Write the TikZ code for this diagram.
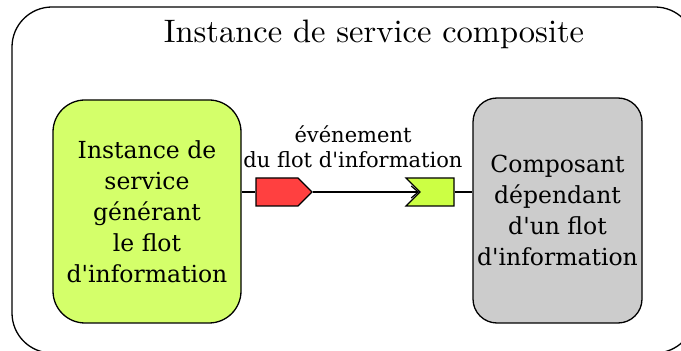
\documentclass[tikz,border=0pt]{standalone}
\usepackage{fontspec}
\newfontfamily\boxfont{DejaVu Serif}
\newfontfamily\titlefont{lmroman10-regular}[Extension=.otf]
\usetikzlibrary{shapes.symbols,arrows.meta}
\definecolor{srcgreen}{HTML}{D4FF6A}
\definecolor{pinggreen}{HTML}{CCFF44}
\definecolor{evred}{HTML}{FF4040}
\definecolor{compgray}{HTML}{CCCCCC}
\tikzset{
  box/.style={draw, line width=1.3pt, rounded corners=32pt, align=center,
    font=\boxfont\fontsize{23.5}{31}\selectfont, inner sep=0pt},
  port/.style={draw, line width=1.2pt, shape=signal, signal pointer angle=90,
    minimum height=28pt, inner sep=0pt},
  wire/.style={line width=1.2pt}
}
\begin{document}
\begin{tikzpicture}[x=1pt,y=1pt]
  \useasboundingbox (0,0) rectangle (681,351);
  % enclosing composite instance
  \begin{scope}
    \clip (0,0) rectangle (681,351);
    \draw[line width=1.3pt, rounded corners=40pt] (12,344) rectangle (695,-2);
  \end{scope}
  \node[anchor=base, font=\titlefont\fontsize{32.5}{38}\selectfont] (title) at (374,308)
    {Instance de service composite};
  % components
  \node[box, fill=srcgreen, minimum width=188pt, minimum height=223pt] (src) at (147,139.5)
    {Instance de\\service\\générant\\le flot\\d'information};
  \node[box, fill=compgray, rounded corners=24pt, minimum width=169pt, minimum height=225pt] (dst) at (557.5,140.5)
    {Composant\\dépendant\\d'un flot\\d'information};
  % event ports
  \node[port, fill=evred, signal to=east, minimum width=56pt] (ev) at (277,159) {};
  \node[port, fill=pinggreen, signal from=west, signal to=nowhere, minimum width=48pt] (sink) at (437,159) {};
  \node[align=center, font=\boxfont\fontsize{21}{25}\selectfont] (lbl) at (353,204)
    {événement\\du flot d'information};
  % connectors
  \draw[wire] (ev.west -| src.east) -- (ev.west);
  \draw[wire, -{Straight Barb[length=7pt, width=12pt, line width=1.2pt]}] (ev.east) -- (sink.west);
  \draw[wire] (sink.east) -- (sink.east -| dst.west);
\end{tikzpicture}
\end{document}
